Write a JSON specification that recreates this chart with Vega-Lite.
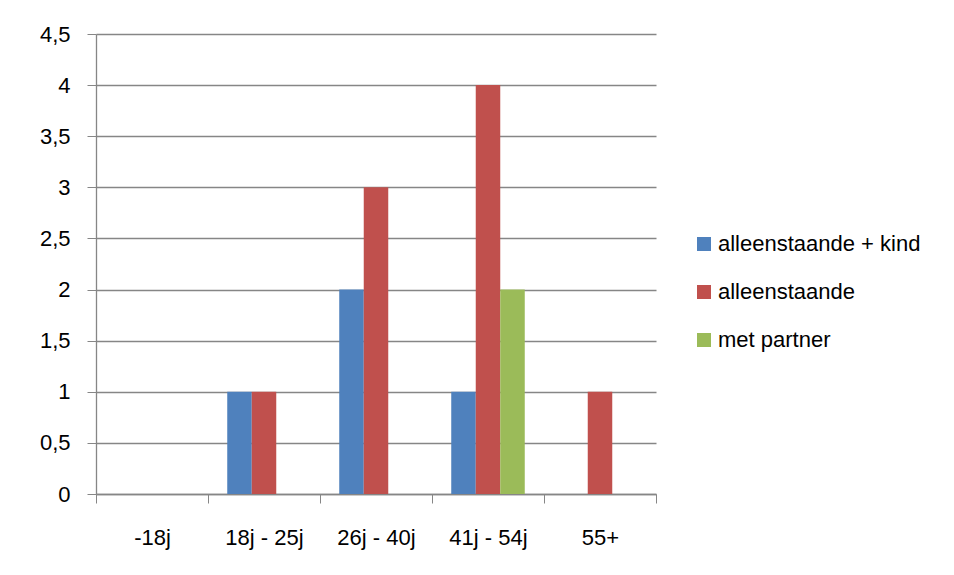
{
  "$schema": "https://vega.github.io/schema/vega-lite/v6.json",
  "autosize": {"type": "none"},
  "width": 560,
  "height": 460,
  "padding": {"left": 96, "top": 34, "right": 298, "bottom": 81},
  "background": "white",
  "config": {
    "view": {"stroke": null},
    "font": "Liberation Sans",
    "axis": {"labelFont": "Liberation Sans", "labelFontSize": 22, "labelColor": "#000000"},
    "legend": {"labelFont": "Liberation Sans", "labelFontSize": 22, "labelColor": "#000000", "labelLimit": 0}
  },
  "data": {
    "values": [
      {"leeftijd": "18j - 25j", "type": "alleenstaande + kind", "aantal": 1},
      {"leeftijd": "18j - 25j", "type": "alleenstaande", "aantal": 1},
      {"leeftijd": "26j - 40j", "type": "alleenstaande + kind", "aantal": 2},
      {"leeftijd": "26j - 40j", "type": "alleenstaande", "aantal": 3},
      {"leeftijd": "41j - 54j", "type": "alleenstaande + kind", "aantal": 1},
      {"leeftijd": "41j - 54j", "type": "alleenstaande", "aantal": 4},
      {"leeftijd": "41j - 54j", "type": "met partner", "aantal": 2},
      {"leeftijd": "55+", "type": "alleenstaande", "aantal": 1}
    ]
  },
  "mark": {"type": "bar"},
  "encoding": {
    "x": {
      "field": "leeftijd",
      "type": "nominal",
      "sort": null,
      "scale": {"domain": ["-18j", "18j - 25j", "26j - 40j", "41j - 54j", "55+"], "paddingInner": 0, "paddingOuter": 0},
      "axis": {
        "title": null,
        "labelAngle": 0,
        "tickBand": "extent",
        "tickSize": 9,
        "tickColor": "#868686",
        "domainColor": "#868686",
        "domainWidth": 1.3,
        "labelPadding": 24,
        "grid": false
      }
    },
    "xOffset": {
      "field": "type",
      "scale": {"domain": ["alleenstaande + kind", "alleenstaande", "met partner"], "paddingInner": 0, "paddingOuter": 0.785}
    },
    "y": {
      "field": "aantal",
      "type": "quantitative",
      "scale": {"domain": [0, 4.5], "nice": false},
      "axis": {
        "title": null,
        "values": [0, 0.5, 1, 1.5, 2, 2.5, 3, 3.5, 4, 4.5],
        "labelExpr": "replace(format(datum.value, '~g'), '.', ',')",
        "tickSize": 9,
        "tickColor": "#868686",
        "domainColor": "#868686",
        "domainWidth": 1.3,
        "gridColor": "#868686",
        "gridWidth": 1.3,
        "gridOpacity": 1,
        "labelPadding": 17
      }
    },
    "color": {
      "field": "type",
      "type": "nominal",
      "scale": {"domain": ["alleenstaande + kind", "alleenstaande", "met partner"], "range": ["#4F81BD", "#C0504D", "#9BBB59"]},
      "legend": {
        "title": null,
        "orient": "none",
        "legendX": 597,
        "legendY": 199,
        "symbolType": "square",
        "symbolSize": 196,
        "symbolStrokeWidth": 0,
        "labelOffset": 3,
        "rowPadding": 26,
        "labelLimit": 0
      }
    }
  }
}
